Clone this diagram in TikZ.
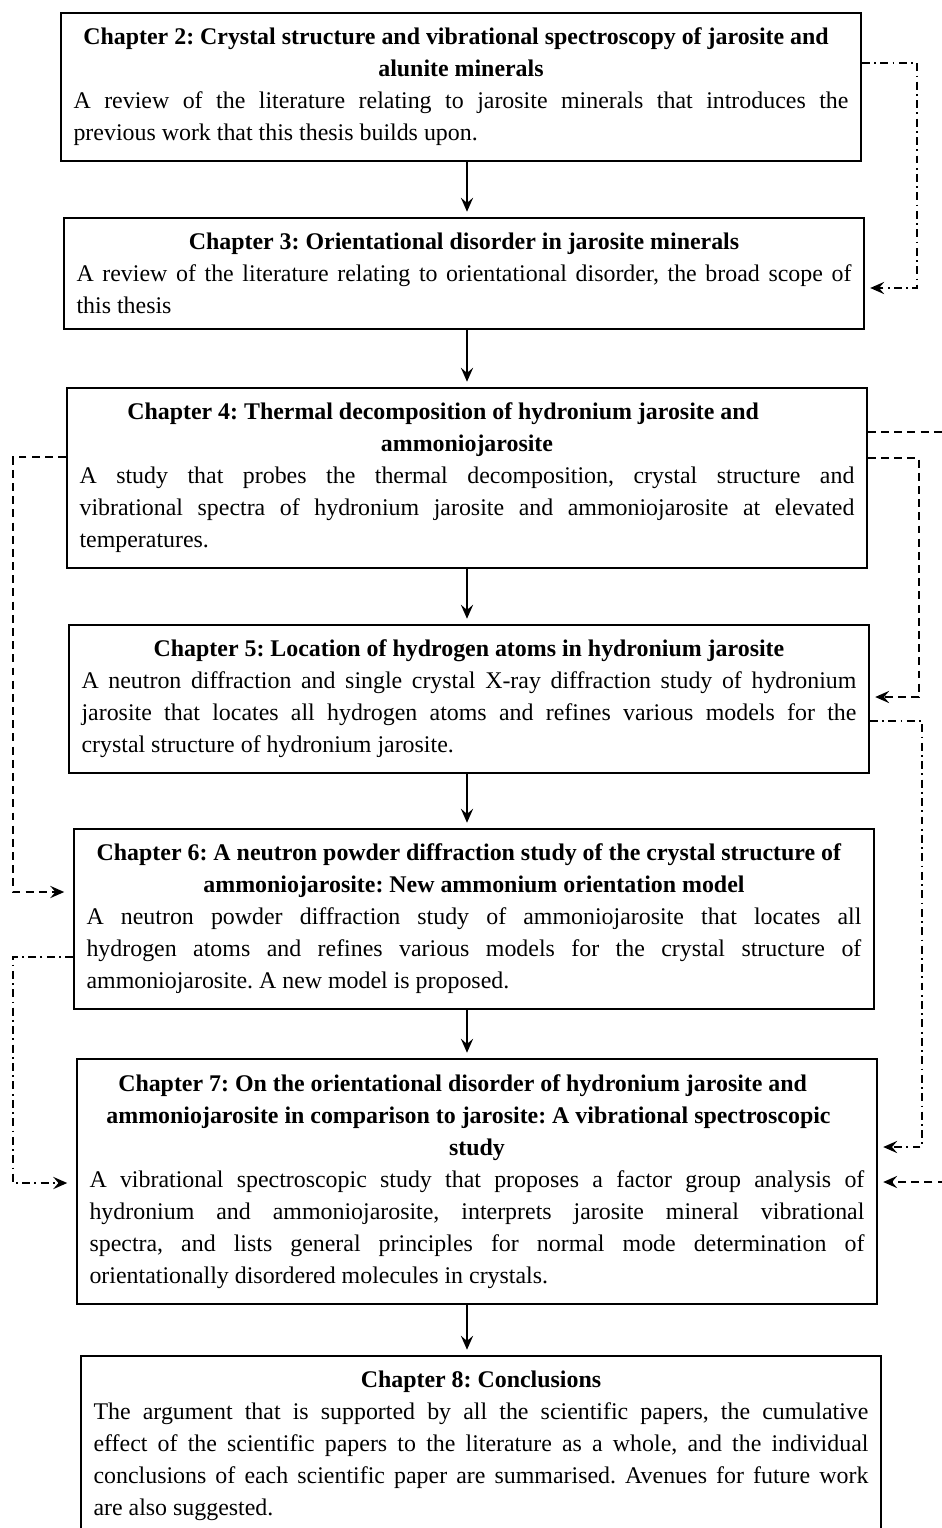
\documentclass[tikz,border=0pt]{standalone}
\usepackage{fontspec}
\setmainfont{Liberation Serif}
\usetikzlibrary{arrows.meta}
\newcommand{\chaphead}[1]{{\centering\bfseries #1\par}}

\begin{document}
\begin{tikzpicture}[x=0.02cm, y=-0.02cm,
  chap/.style={draw, line width=1.2pt, anchor=north west, text width=15.5cm,
    inner xsep=0.25cm, inner ysep=2pt, align=justify,
    font=\fontsize{13.6pt}{18.2pt}\selectfont\frenchspacing},
  flow/.style={-{Stealth[length=8pt,width=7pt,inset=3pt]}, line width=0.8pt, shorten >=3pt},
  dashlink/.style={flow, dash pattern=on 4.5pt off 3pt},
  dotlink/.style={flow, dash pattern=on 4.5pt off 2.5pt on 1pt off 2.5pt}]
\useasboundingbox (0,0) rectangle (942,1528);
\node[chap, minimum height=2.96cm] (B2) at (60,12) {\chaphead{Chapter 2: Crystal structure and vibrational spectroscopy of jarosite and\newline alunite minerals}A review of the literature relating to jarosite minerals that introduces the\linebreak previous work that this thesis builds upon.};
\node[chap, minimum height=2.22cm] (B3) at (63,217) {\chaphead{Chapter 3: Orientational disorder in jarosite minerals}A review of the literature relating to orientational disorder, the broad scope of\linebreak this thesis};
\node[chap, minimum height=3.6cm] (B4) at (66,387) {\chaphead{Chapter 4: Thermal decomposition of hydronium jarosite and\newline ammoniojarosite}A study that probes the thermal decomposition, crystal structure and\linebreak vibrational spectra of hydronium jarosite and ammoniojarosite at elevated\linebreak temperatures.};
\node[chap, minimum height=2.96cm] (B5) at (68,624) {\chaphead{Chapter 5: Location of hydrogen atoms in hydronium jarosite}A neutron diffraction and single crystal X-ray diffraction study of hydronium\linebreak jarosite that locates all hydrogen atoms and refines various models for the\linebreak crystal structure of hydronium jarosite.};
\node[chap, minimum height=3.6cm] (B6) at (73,828) {\chaphead{Chapter 6: A neutron powder diffraction study of the crystal structure of\newline ammoniojarosite: New ammonium orientation model}A neutron powder diffraction study of ammoniojarosite that locates all\linebreak hydrogen atoms and refines various models for the crystal structure of\linebreak ammoniojarosite. A new model is proposed.};
\node[chap, minimum height=4.9cm] (B7) at (76,1058) {\chaphead{Chapter 7: On the orientational disorder of hydronium jarosite and\newline ammoniojarosite in comparison to jarosite: A vibrational spectroscopic\newline study}A vibrational spectroscopic study that proposes a factor group analysis of\linebreak hydronium and ammoniojarosite, interprets jarosite mineral vibrational\linebreak spectra, and lists general principles for normal mode determination of\linebreak orientationally disordered molecules in crystals.};
\node[chap, minimum height=3.6cm] (B8) at (80,1355) {\chaphead{Chapter 8: Conclusions}The argument that is supported by all the scientific papers, the cumulative\linebreak effect of the scientific papers to the literature as a whole, and the individual\linebreak conclusions of each scientific paper are summarised. Avenues for future work\linebreak are also suggested.};
\draw[flow] (B2.south -| 467,0) -- (B3.north -| 467,0);
\draw[flow] (B3.south -| 467,0) -- (B4.north -| 467,0);
\draw[flow] (B4.south -| 467,0) -- (B5.north -| 467,0);
\draw[flow] (B5.south -| 467,0) -- (B6.north -| 467,0);
\draw[flow] (B6.south -| 467,0) -- (B7.north -| 467,0);
\draw[flow] (B7.south -| 467,0) -- (B8.north -| 467,0);
\draw[dotlink] (B2.east |- 0,63) -| (917,288) -- (B3.east |- 0,288);
\draw[dashlink] (B4.east |- 0,432) -| (960,1182) -- (B7.east |- 0,1182);
\draw[dashlink] (B4.east |- 0,458) -| (919,697) -- (B5.east |- 0,697);
\draw[dotlink] (B5.east |- 0,721) -| (922,1147) -- (B7.east |- 0,1147);
\draw[dashlink, shorten >=5pt] (B4.west |- 0,457) -| (13,892) -- (B6.west |- 0,892);
\draw[dotlink, shorten >=5pt] (B6.west |- 0,957) -| (13,1183) -- (B7.west |- 0,1183);
\end{tikzpicture}
\end{document}
